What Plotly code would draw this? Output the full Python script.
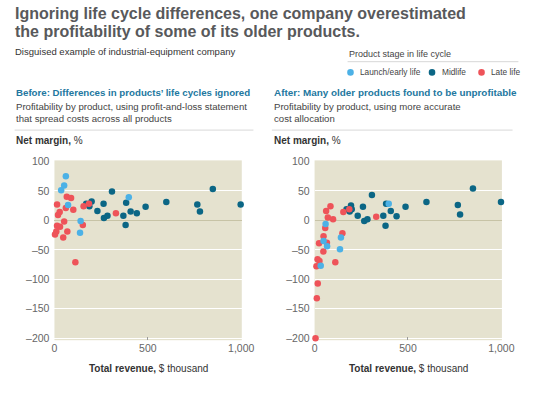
import plotly.graph_objects as go

W, H = 545, 396

# ---------------- data ----------------
# Before (left panel)
before_launch_x = [61, 52, 36, 73, 140, 137, 398]
before_launch_y = [75, 59, 51, 26, -1, -21, 39]
before_late_x = [14, 19, 28, 66, 89, 61, 101, 52, 14, 30, 10, 3, 47, 69, 152, 156, 112, 185, 329]
before_late_y = [27, 9, 14, 40, 38, 21, 18, -2, -9, -11, -19, -24, -29, -19, -8, 24, -71, 28, 12]
before_mid_x = [170, 187, 199, 230, 263, 265, 284, 308, 384, 369, 381, 408, 441, 488, 599, 765, 779, 848, 997]
before_mid_y = [28, 24, 32, 16, 28, 4, 8, 49, 30, 8, -8, 15, 12, 23, 31, 27, 15, 53, 27]

# After (right panel)
after_launch_x = [59, 48, 67, 141, 136, 397, 33]
after_launch_y = [-6, -35, -44, -29, -49, 28, -77]
after_late_x = [85, 62, 71, 99, 57, 48, 66, 24, 47, 16, 26, 10, 111, 149, 154, 186, 330, 17, 12, 5]
after_late_y = [24, 16, 5, 2, -13, -27, -38, -39, -53, -66, -69, -78, -71, -22, 14, 19, 6, -107, -132, -200]
after_mid_x = [171, 188, 195, 199, 231, 259, 266, 283, 307, 368, 383, 380, 408, 439, 487, 599, 767, 779, 848, 998]
after_mid_y = [19, 15, 25, 19, 8, 23, -1, 2, 43, 8, 28, -9, 16, 7, 23, 31, 26, 10, 54, 31]

stage_names = ["Launch/early life", "Midlife", "Late life"]
y_tickvals = [100, 50, 0, -50, -100, -150, -200]
y_ticktext = ["100", "50", "0", "–50", "–100", "–150", "–200"]
x_tickvals = [0, 500, 1000]
x_ticktext = ["0", "500", "1,000"]

# ---------------- styles ----------------
C_LAUNCH = "#4cb1e6"
C_MID = "#0b6685"
C_LATE = "#ee5359"
BG = "#e5e2cf"
FONT = "Liberation Sans, Arial, sans-serif"
TEAL = "#2277a0"


def px(x):
    return x / W


def py(y):
    return 1 - y / H


fig = go.Figure()

panels = [
    ("x", "y", before_launch_x, before_launch_y, before_mid_x, before_mid_y, before_late_x, before_late_y),
    ("x2", "y2", after_launch_x, after_launch_y, after_mid_x, after_mid_y, after_late_x, after_late_y),
]
for xa, ya, lx, ly, mx, my, rx, ry in panels:
    for xs, ys, col, name in [(mx, my, C_MID, stage_names[1]),
                              (rx, ry, C_LATE, stage_names[2]),
                              (lx, ly, C_LAUNCH, stage_names[0])]:
        fig.add_trace(go.Scatter(
            x=xs, y=ys, mode="markers", name=name, xaxis=xa, yaxis=ya,
            marker=dict(color=col, size=6.5, line=dict(width=0)),
            cliponaxis=False, showlegend=False, hoverinfo="skip"))

y0, y1 = py(343), py(159)
axis_common_x = dict(range=[0, 1003], tickvals=x_tickvals, ticktext=x_ticktext,
                     showgrid=False, zeroline=False, showline=False,
                     ticks="inside", ticklen=3, tickcolor="#9a9a9a", tickwidth=1,
                     tickfont=dict(family=FONT, size=10.5, color="#666666"),
                     fixedrange=True)
axis_common_y = dict(range=[-203.3, 101.7], tickvals=y_tickvals, ticktext=y_ticktext,
                     showgrid=True, gridcolor="#ffffff", gridwidth=1,
                     zeroline=True, zerolinecolor="#c7c3a6", zerolinewidth=1,
                     showline=False, ticks="", ticklabelstandoff=4,
                     tickfont=dict(family=FONT, size=10.5, color="#666666"),
                     fixedrange=True)

fig.update_layout(
    width=W, height=H, autosize=False,
    margin=dict(l=0, r=0, t=0, b=0),
    paper_bgcolor="white", plot_bgcolor=BG,
    font=dict(family=FONT),
    xaxis=dict(domain=[px(53), px(246)], anchor="y", **axis_common_x),
    yaxis=dict(domain=[y0, y1], anchor="x", **axis_common_y),
    xaxis2=dict(domain=[px(321), px(514)], anchor="y2", **axis_common_x),
    yaxis2=dict(domain=[y0, y1], anchor="x2", **axis_common_y),
    showlegend=False,
)

ann = []


def text(x, y, s, size, color, anchor="left"):
    ann.append(dict(x=px(x), y=py(y), xref="paper", yref="paper", text=s,
                    showarrow=False, xanchor=anchor, yanchor="middle",
                    font=dict(family=FONT, size=size, color=color)))


shapes = []

# title
text(10, 9, "<b>Ignoring life cycle differences, one company overestimated</b>", 16, "#58595b")
text(10, 27, "<b>the profitability of some of its older products.</b>", 16, "#58595b")
text(10, 48, "Disguised example of industrial-equipment company", 9.5, "#333333")

# legend
text(354, 50, "Product stage in life cycle", 9, "#444444")
leg = [(358, C_LAUNCH, stage_names[0]), (442, C_MID, stage_names[1]), (493, C_LATE, stage_names[2])]
for lx_, col, name in leg:
    r = 3.4
    shapes.append(dict(type="circle", xref="paper", yref="paper",
                       x0=px(lx_ - r), x1=px(lx_ + r), y0=py(69 + r), y1=py(69 - r),
                       fillcolor=col, line=dict(width=0)))
    text(lx_ + 8, 69, name, 8.3, "#444444")

# section headers
text(11, 90, "<b>Before: Differences in products’ life cycles ignored</b>", 9.7, TEAL)
text(11, 104, "Profitability by product, using profit-and-loss statement", 9.6, "#444444")
text(11, 116, "that spread costs across all products", 9.6, "#444444")
text(277, 90, "<b>After: Many older products found to be unprofitable</b>", 9.9, TEAL)
text(277, 104, "Profitability by product, using more accurate", 9.6, "#444444")
text(277, 116, "cost allocation", 9.6, "#444444")

text(11, 139, "<b>Net margin,</b> %", 10, "#333333")
text(277, 139, "<b>Net margin,</b> %", 10, "#333333")

text(150, 372, "<b>Total revenue,</b> $ thousand", 10, "#333333", anchor="center")
text(417.5, 372, "<b>Total revenue,</b> $ thousand", 10, "#333333", anchor="center")

fig.update_layout(annotations=ann)

for xa, xb, yy in [(12, 258, 128), (277, 525, 128), (355, 531, 58)]:
    shapes.append(dict(type="line", xref="paper", yref="paper",
                       x0=px(xa), x1=px(xb), y0=py(yy), y1=py(yy),
                       line=dict(color="#d8d8d8", width=1)))
fig.update_layout(shapes=shapes)

fig.write_html("out.html", config={"displayModeBar": False},
               post_script="document.body.style.margin='0';document.body.style.padding='0';")
